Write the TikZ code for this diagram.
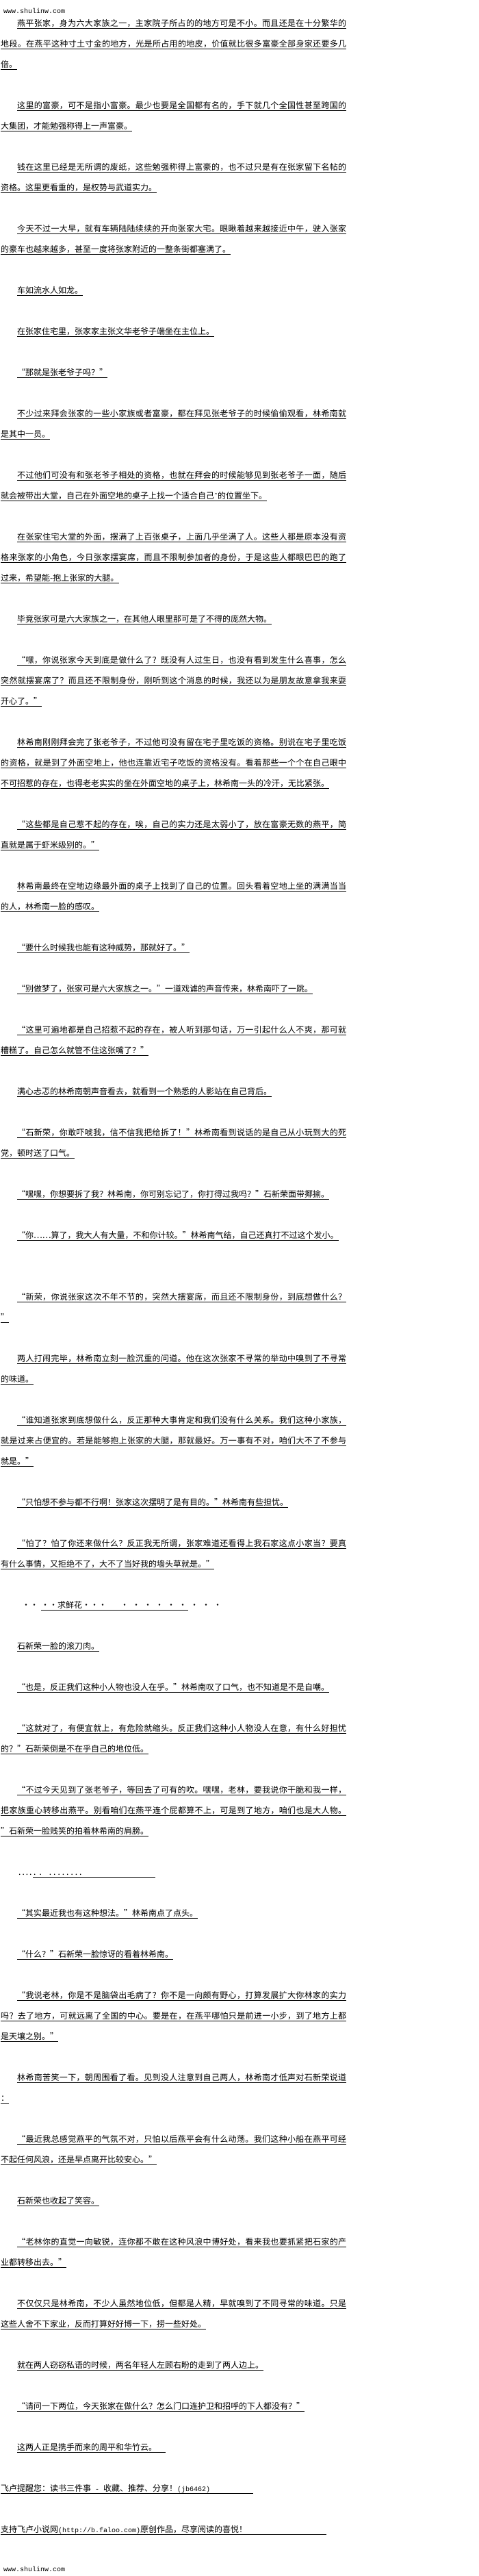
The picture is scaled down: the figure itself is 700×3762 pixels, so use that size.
\documentclass[tikz,border=0pt]{standalone}
\usepackage{fontspec}
\usepackage{tikz}
\newfontfamily\cjk[CharacterWidth=Full]{Noto Sans CJK SC}
\newfontfamily\cjkp{Noto Sans CJK SC}
\newfontfamily\mono{Liberation Mono}
\newfontfamily\dejavu{DejaVu Sans}
\newcommand{\asc}[1]{{\mono\fontsize{10pt}{12pt}\selectfont #1}}
\def\etirer#1{\ifx#1\relax\else#1\hfil\expandafter\etirer\fi}
\newcommand{\etire}[2]{\hbox to #1{\etirer#2\relax\unskip}}
\newcommand{\retrait}[1]{\etire{481pt}{#1}}
\newcommand{\pleine}[1]{\etire{505pt}{#1}}
\tikzstyle{ligne} = [anchor=base west, inner sep=0pt, text height=10pt, text depth=3pt, font=\cjk\fontsize{12pt}{12pt}\selectfont, append after command={(\tikzlastnode.south west) edge (\tikzlastnode.south east)}]
\tikzstyle{nue} = [anchor=base west, inner sep=0pt, font=\cjk\fontsize{12pt}{12pt}\selectfont]
\tikzstyle{site} = [anchor=base west, inner sep=0pt, font=\mono\fontsize{10pt}{12pt}\selectfont]

\begin{document}
\begin{tikzpicture}[x=1pt, y=-1pt, every edge/.style={draw, line width=1pt}]

        \useasboundingbox[fill=white] (0,0) rectangle (700,3762);

        \node (haut) [site] at (5,19) {www.shulinw.com};

        \node (p1a) [ligne] at (25,38) {\retrait{燕平张家，身为六大家族之一，主家院子所占的的地方可是不小。而且还是在十分繁华的}};
        \node (p1b) [ligne] at (1,68) {\pleine{地段。在燕平这种寸土寸金的地方，光是所占用的地皮，价值就比很多富豪全部身家还要多几}};
        \node (p1c) [ligne] at (1,98) {倍。};

        \node (p2a) [ligne] at (25,158) {\retrait{这里的富豪，可不是指小富豪。最少也要是全国都有名的，手下就几个全国性甚至跨国的}};
        \node (p2b) [ligne] at (1,188) {大集团，才能勉强称得上一声富豪。};

        \node (p3a) [ligne] at (25,248) {\retrait{钱在这里已经是无所谓的废纸，这些勉强称得上富豪的，也不过只是有在张家留下名帖的}};
        \node (p3b) [ligne] at (1,278) {资格。这里更看重的，是权势与武道实力。};

        \node (p4a) [ligne] at (25,338) {\retrait{今天不过一大早，就有车辆陆陆续续的开向张家大宅。眼瞅着越来越接近中午，驶入张家}};
        \node (p4b) [ligne] at (1,368) {的豪车也越来越多，甚至一度将张家附近的一整条街都塞满了。};

        \node (p5a) [ligne] at (25,428) {车如流水人如龙。};
        \node (p6a) [ligne] at (25,488) {在张家住宅里，张家家主张文华老爷子端坐在主位上。};
        \node (p7a) [ligne] at (25,548) {“那就是张老爷子吗？”};

        \node (p8a) [ligne] at (25,608) {\retrait{不少过来拜会张家的一些小家族或者富豪，都在拜见张老爷子的时候偷偷观看，林希南就}};
        \node (p8b) [ligne] at (1,638) {是其中一员。};

        \node (p9a) [ligne] at (25,698) {\retrait{不过他们可没有和张老爷子相处的资格，也就在拜会的时候能够见到张老爷子一面，随后}};
        \node (p9b) [ligne] at (1,728) {就会被带出大堂，自己在外面空地的桌子上找一个适合自己{\dejavu\fontsize{10pt}{12pt}\selectfont ˜}的位置坐下。};

        \node (p10a) [ligne] at (25,788) {\retrait{在张家住宅大堂的外面，摆满了上百张桌子，上面几乎坐满了人。这些人都是原本没有资}};
        \node (p10b) [ligne] at (1,818) {\pleine{格来张家的小角色，今日张家摆宴席，而且不限制参加者的身份，于是这些人都眼巴巴的跑了}};
        \node (p10c) [ligne] at (1,848) {过来，希望能{\cjkp -}抱上张家的大腿。};

        \node (p11a) [ligne] at (25,908) {毕竟张家可是六大家族之一，在其他人眼里那可是了不得的庞然大物。};

        \node (p12a) [ligne] at (25,968) {\retrait{“嘿，你说张家今天到底是做什么了？既没有人过生日，也没有看到发生什么喜事，怎么}};
        \node (p12b) [ligne] at (1,998) {\pleine{突然就摆宴席了？而且还不限制身份，刚听到这个消息的时候，我还以为是朋友故意拿我来耍}};
        \node (p12c) [ligne] at (1,1028) {开心了。”};

        \node (p13a) [ligne] at (25,1088) {\retrait{林希南刚刚拜会完了张老爷子，不过他可没有留在宅子里吃饭的资格。别说在宅子里吃饭}};
        \node (p13b) [ligne] at (1,1118) {\pleine{的资格，就是到了外面空地上，他也连靠近宅子吃饭的资格没有。看着那些一个个在自己眼中}};
        \node (p13c) [ligne] at (1,1148) {不可招惹的存在，也得老老实实的坐在外面空地的桌子上，林希南一头的冷汗，无比紧张。};

        \node (p14a) [ligne] at (25,1208) {\retrait{“这些都是自己惹不起的存在，唉，自己的实力还是太弱小了，放在富豪无数的燕平，简}};
        \node (p14b) [ligne] at (1,1238) {直就是属于虾米级别的。”};

        \node (p15a) [ligne] at (25,1298) {\retrait{林希南最终在空地边缘最外面的桌子上找到了自己的位置。回头看着空地上坐的满满当当}};
        \node (p15b) [ligne] at (1,1328) {的人，林希南一脸的感叹。};

        \node (p16a) [ligne] at (25,1388) {“要什么时候我也能有这种威势，那就好了。”};
        \node (p17a) [ligne] at (25,1448) {“别做梦了，张家可是六大家族之一。”一道戏谑的声音传来，林希南吓了一跳。};

        \node (p18a) [ligne] at (25,1508) {\retrait{“这里可遍地都是自己招惹不起的存在，被人听到那句话，万一引起什么人不爽，那可就}};
        \node (p18b) [ligne] at (1,1538) {糟糕了。自己怎么就管不住这张嘴了？”};

        \node (p19a) [ligne] at (25,1598) {满心忐忑的林希南朝声音看去，就看到一个熟悉的人影站在自己背后。};

        \node (p20a) [ligne] at (25,1658) {\retrait{“石新荣，你敢吓唬我，信不信我把给拆了！”林希南看到说话的是自己从小玩到大的死}};
        \node (p20b) [ligne] at (1,1688) {党，顿时送了口气。};

        \node (p21a) [ligne] at (25,1748) {“嘿嘿，你想要拆了我？林希南，你可别忘记了，你打得过我吗？”石新荣面带揶揄。};
        \node (p22a) [ligne] at (25,1808) {“你……算了，我大人有大量，不和你计较。”林希南气结，自己还真打不过这个发小。};

        \node (p23a) [ligne] at (25,1898) {\retrait{“新荣，你说张家这次不年不节的，突然大摆宴席，而且还不限制身份，到底想做什么？}};
        \node (p23b) [ligne] at (1,1928) {”};

        \node (p24a) [ligne] at (25,1988) {\retrait{两人打闹完毕，林希南立刻一脸沉重的问道。他在这次张家不寻常的举动中嗅到了不寻常}};
        \node (p24b) [ligne] at (1,2018) {的味道。};

        \node (p25a) [ligne] at (25,2078) {\retrait{“谁知道张家到底想做什么，反正那种大事肯定和我们没有什么关系。我们这种小家族，}};
        \node (p25b) [ligne] at (1,2108) {\pleine{就是过来占便宜的。若是能够抱上张家的大腿，那就最好。万一事有不对，咱们大不了不参与}};
        \node (p25c) [ligne] at (1,2138) {就是。”};

        \node (p26a) [ligne] at (25,2198) {“只怕想不参与都不行啊！张家这次摆明了是有目的。”林希南有些担忧。};

        \node (p27a) [ligne] at (25,2258) {\retrait{“怕了？怕了你还来做什么？反正我无所谓，张家难道还看得上我石家这点小家当？要真}};
        \node (p27b) [ligne] at (1,2288) {有什么事情，又拒绝不了，大不了当好我的墙头草就是。”};

        \node (hua1) [nue] at (32,2348) {・・};
        \node (hua2) [ligne] at (60,2348) {\makebox[215pt][l]{・・求鲜花・・・\hspace{20pt}{\cjkp ·\hspace{5pt}·\hspace{5pt}·\hspace{5pt}·\hspace{5pt}·\hspace{5pt}·\hspace{5pt}·\hspace{5pt}·\hspace{5pt}·}}};

        \node (p29a) [ligne] at (25,2408) {石新荣一脸的滚刀肉。};
        \node (p30a) [ligne] at (25,2468) {“也是，反正我们这种小人物也没人在乎。”林希南叹了口气，也不知道是不是自嘲。};

        \node (p31a) [ligne] at (25,2528) {\retrait{“这就对了，有便宜就上，有危险就缩头。反正我们这种小人物没人在意，有什么好担忧}};
        \node (p31b) [ligne] at (1,2558) {的？”石新荣倒是不在乎自己的地位低。};

        \node (p32a) [ligne] at (25,2618) {\retrait{“不过今天见到了张老爷子，等回去了可有的吹。嘿嘿，老林，要我说你干脆和我一样，}};
        \node (p32b) [ligne] at (1,2648) {\pleine{把家族重心转移出燕平。别看咱们在燕平连个屁都算不上，可是到了地方，咱们也是大人物。}};
        \node (p32c) [ligne] at (1,2678) {”石新荣一脸贱笑的拍着林希南的肩膀。};

        \node (pt1) [nue] at (27,2738) {{\cjkp .\,.\,.\,.}};
        \node (pt2) [ligne] at (48,2738) {\makebox[179pt][l]{\cjkp\hspace{1pt}.\hspace{5pt}.\hspace{11pt}.\hspace{3pt}.\hspace{3pt}.\hspace{3pt}.\hspace{3pt}.\hspace{3pt}.\hspace{3pt}.\hspace{3pt}.}};

        \node (p34a) [ligne] at (25,2798) {“其实最近我也有这种想法。”林希南点了点头。};
        \node (p35a) [ligne] at (25,2858) {“什么？”石新荣一脸惊讶的看着林希南。};

        \node (p36a) [ligne] at (25,2918) {\retrait{“我说老林，你是不是脑袋出毛病了？你不是一向颇有野心，打算发展扩大你林家的实力}};
        \node (p36b) [ligne] at (1,2948) {\pleine{吗？去了地方，可就远离了全国的中心。要是在，在燕平哪怕只是前进一小步，到了地方上都}};
        \node (p36c) [ligne] at (1,2978) {是天壤之别。”};

        \node (p37a) [ligne] at (25,3038) {\retrait{林希南苦笑一下，朝周围看了看。见到没人注意到自己两人，林希南才低声对石新荣说道}};
        \node (p37b) [ligne] at (1,3068) {：};

        \node (p38a) [ligne] at (25,3128) {\retrait{“最近我总感觉燕平的气氛不对，只怕以后燕平会有什么动荡。我们这种小船在燕平可经}};
        \node (p38b) [ligne] at (1,3158) {不起任何风浪，还是早点离开比较安心。”};

        \node (p39a) [ligne] at (25,3218) {石新荣也收起了笑容。};

        \node (p40a) [ligne] at (25,3278) {\retrait{“老林你的直觉一向敏锐，连你都不敢在这种风浪中博好处，看来我也要抓紧把石家的产}};
        \node (p40b) [ligne] at (1,3308) {业都转移出去。”};

        \node (p41a) [ligne] at (25,3368) {\retrait{不仅仅只是林希南，不少人虽然地位低，但都是人精，早就嗅到了不同寻常的味道。只是}};
        \node (p41b) [ligne] at (1,3398) {这些人舍不下家业，反而打算好好博一下，捞一些好处。};

        \node (p42a) [ligne] at (25,3458) {就在两人窃窃私语的时候，两名年轻人左顾右盼的走到了两人边上。};
        \node (p43a) [ligne] at (25,3518) {“请问一下两位，今天张家在做什么？怎么门口连护卫和招呼的下人都没有？”};
        \node (p44a) [ligne] at (25,3578) {\makebox[217pt][l]{这两人正是携手而来的周平和华竹云。}};

        \node (p45a) [ligne] at (1,3638) {\makebox[369pt][l]{飞卢提醒您：读书三件事\asc{ - }收藏、推荐、分享！\asc{(jb6462)}}};
        \node (p46a) [ligne] at (1,3698) {\makebox[476pt][l]{支持飞卢小说网\asc{(http://b.faloo.com)}原创作品，尽享阅读的喜悦！}};

        \node (bas) [site] at (5,3755) {www.shulinw.com};

    \end{tikzpicture}
\end{document}
